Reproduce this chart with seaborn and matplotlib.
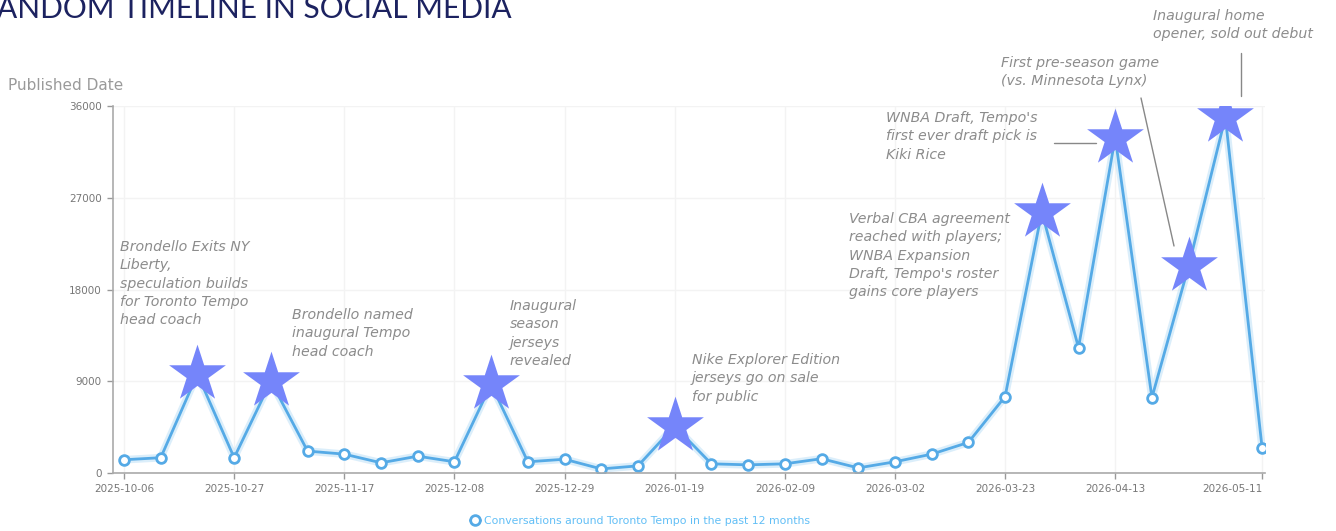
import pandas as pd
import matplotlib.pyplot as plt
import seaborn as sns
from matplotlib.lines import Line2D


# ============================ DADOS ============================

weeks = pd.date_range('2025-10-06', '2026-05-11', freq='7D')
conversations = [1300, 1500, 9700, 1500, 9000, 2150, 1850, 1000, 1650, 1100, 8700,
                 1100, 1350, 400, 700, 4600, 900, 800, 900, 1400, 500, 1100, 1850,
                 3000, 7500, 25600, 12300, 32900, 7400, 20300, 34900, 2500]
star_weeks = [2, 4, 10, 15, 25, 27, 29, 30]
tick_weeks = [0, 3, 6, 9, 12, 15, 18, 21, 24, 27, 31]
y_ticks = [0, 9000, 18000, 27000, 36000]

events = [
    "Brondello Exits NY\nLiberty,\nspeculation builds\nfor Toronto Tempo\nhead coach",
    "Brondello named\ninaugural Tempo\nhead coach",
    "Inaugural\nseason\njerseys\nrevealed",
    "Nike Explorer Edition\njerseys go on sale\nfor public",
    "Verbal CBA agreement\nreached with players;\nWNBA Expansion\nDraft, Tempo's roster\ngains core players",
    "WNBA Draft, Tempo's\nfirst ever draft pick is\nKiki Rice",
    "First pre-season game\n(vs. Minnesota Lynx)",
    "Inaugural home\nopener, sold out debut",
]

df = pd.DataFrame({'week': range(len(conversations)), 'conversations': conversations})
df_star = df.iloc[star_weeks]

# ============================ CONFIGURAÇÕES ============================

W, H = 1336, 531
LINE_COLOR = '#55aae6'
STAR_COLOR = '#7585fa'
NOTE_COLOR = '#8c8c8c'

sns.set_theme(style='white')
plt.rcParams['font.family'] = ['DejaVu Sans']

fig = plt.figure(figsize=(W / 100, H / 100), dpi=100)
ax = fig.add_axes([113 / W, 1 - 473 / H, (1265 - 113) / W, (473 - 106) / H])

# linha com brilho
sns.lineplot(data=df, x='week', y='conversations', ax=ax, color='#c4e3f8',
             linewidth=5.5, alpha=0.6, legend=False)
sns.lineplot(data=df, x='week', y='conversations', ax=ax, color=LINE_COLOR,
             linewidth=2, marker='o', markersize=7, markerfacecolor='white',
             markeredgecolor=LINE_COLOR, markeredgewidth=2,
             label='Conversations around Toronto Tempo in the past 12 months')
sns.scatterplot(data=df_star, x='week', y='conversations', ax=ax, marker='*',
                s=43 ** 2, color=STAR_COLOR, linewidth=0, zorder=5, legend=False)

ax.set_xlim(-0.3, 31.08)
ax.set_ylim(0, 36000)
ax.set_xticks(tick_weeks)
ax.set_xticklabels([weeks[i].strftime('%Y-%m-%d') for i in tick_weeks])
ax.get_xticklabels()[-1].set_ha('right')
ax.set_yticks(y_ticks)
ax.set_yticklabels([str(v) for v in y_ticks])
ax.set_xlabel('')
ax.set_ylabel('')
ax.tick_params(axis='both', length=4, width=1, color='#999999', labelsize=7.5,
               labelcolor='#777777', bottom=True, left=True, pad=4)
ax.grid(True, color='#f3f3f3', linewidth=1)
for side in ['top', 'right']:
    ax.spines[side].set_visible(False)
for side in ['left', 'bottom']:
    ax.spines[side].set_color('#aaaaaa')
    ax.spines[side].set_linewidth(1.2)

leg = ax.legend(loc='center', bbox_to_anchor=(640 / W, 1 - 521 / H),
                bbox_transform=fig.transFigure, frameon=False, fontsize=7.8,
                labelcolor='#62bff6', handlelength=0.9, handletextpad=0.4)

# ============================ TEXTOS ============================

fig.text(-0.002, 1 - 18 / H, 'ANDOM TIMELINE IN SOCIAL MEDIA', va='baseline', ha='left',
         fontsize=21.5, color='#1c2260', family='Lato')
fig.text(8 / W, 1 - 85 / H, 'Published Date', va='center', ha='left',
         fontsize=11, color='#9a9a9a')

note_pos = [(120, 240), (292, 308), (510, 299), (692, 353),
            (849, 212), (886, 111), (1001, 56), (1153, 9)]
for (px, py), txt in zip(note_pos, events):
    fig.text(px / W, 1 - py / H, txt, va='top', ha='left', fontsize=10.2,
             style='italic', color=NOTE_COLOR, linespacing=1.39)

# linhas de ligação
for (x0, y0), (x1, y1) in [((1054, 143), (1096, 143)),
                           ((1141, 98), (1174, 246)),
                           ((1241, 53), (1241, 96))]:
    fig.add_artist(Line2D([x0 / W, x1 / W], [1 - y0 / H, 1 - y1 / H],
                          transform=fig.transFigure, color='#888888', linewidth=1))

fig.savefig('out.png', dpi=100)
